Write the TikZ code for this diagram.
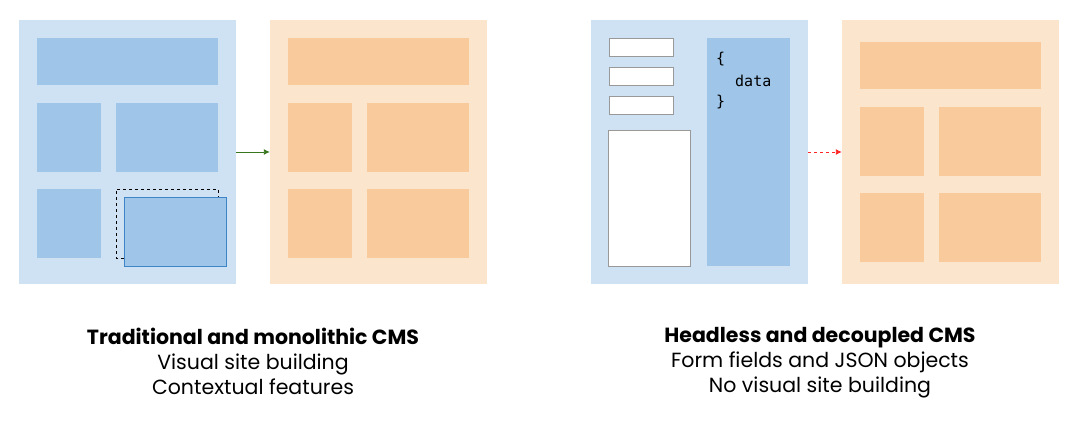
\documentclass[tikz,border=0pt]{standalone}
\usepackage{fontspec}
\setmainfont{Poppins}
\setmonofont{DejaVu Sans Mono}
\usetikzlibrary{arrows.meta}
\definecolor{lblue}{HTML}{CFE2F3}
\definecolor{mblue}{HTML}{9FC5E8}
\definecolor{dblue}{HTML}{3D85C6}
\definecolor{lorange}{HTML}{FCE5CD}
\definecolor{morange}{HTML}{F9CB9C}
\definecolor{agreen}{HTML}{38761D}
\begin{document}
\begin{tikzpicture}[x=1pt,y=-1pt,
  panelb/.style={fill=lblue,draw=none},
  panelo/.style={fill=lorange,draw=none},
  blk/.style={fill=mblue,draw=none},
  blko/.style={fill=morange,draw=none},
  field/.style={fill=white,draw=black!40,line width=0.8pt},
  captext/.style={font=\fontsize{20.5}{25}\selectfont,align=center,anchor=north,inner sep=0pt},
  code/.style={font=\ttfamily\fontsize{15}{16}\selectfont,anchor=west,inner sep=0pt}]
\useasboundingbox (0,0) rectangle (1078,427);
% panel 1
\path[panelb] (19,20) rectangle (236,284);
\node[inner sep=0,minimum size=0] (p1) at (236,152) {};
\path[blk] (37,38) rectangle (218,85);
\path[blk] (37,103) rectangle (101,172);
\path[blk] (116,103) rectangle (218,172);
\path[blk] (37,189) rectangle (101,258);
\draw[black,dashed,line width=0.8pt] (124,258) -- (116,258) -- (116,189) -- (218,189) -- (218,197);
\draw[fill=mblue,draw=dblue,line width=0.8pt] (124,197) rectangle (226,266);
% panel 2
\path[panelo] (270,20) rectangle (487,284);
\node[inner sep=0,minimum size=0] (p2) at (270,152) {};
\path[blko] (288,38) rectangle (469,85);
\path[blko] (288,103) rectangle (352,172);
\path[blko] (367,103) rectangle (469,172);
\path[blko] (288,189) rectangle (352,258);
\path[blko] (367,189) rectangle (469,258);
\draw[agreen,line width=0.9pt,-{Latex[length=6pt,width=6pt]}] (p1) -- (p2);
% panel 3
\path[panelb] (591,20) rectangle (808,284);
\node[inner sep=0,minimum size=0] (p3) at (808,152) {};
\draw[field] (609,38) rectangle (673,56);
\draw[field] (609,67) rectangle (673,85);
\draw[field] (609,96) rectangle (673,114);
\draw[field] (608,130) rectangle (690,266);
\path[blk] (707,38) rectangle (790,266);
\node[code] (c1) at (716,59) {\{};
\node[code] (c2) at (735,81) {data};
\node[code] (c3) at (716,102) {\}};
% panel 4
\path[panelo] (842,20) rectangle (1059,284);
\node[inner sep=0,minimum size=0] (p4) at (842,152) {};
\path[blko] (860,42) rectangle (1041,89);
\path[blko] (860,107) rectangle (924,176);
\path[blko] (939,107) rectangle (1041,176);
\path[blko] (860,193) rectangle (924,262);
\path[blko] (939,193) rectangle (1041,262);
\draw[red!85,line width=0.9pt,dash pattern=on 3pt off 3pt,-{Latex[length=6pt,width=6pt]}] (p3) -- (p4);
% captions
\node[captext] (t1) at (253,327.5) {\textbf{Traditional and monolithic CMS}\\Visual site building\\Contextual features};
\node[captext] (t2) at (820,327.5) {\textbf{Headless and decoupled CMS}\\Form fields and JSON objects\\No visual site building};
\end{tikzpicture}
\end{document}
